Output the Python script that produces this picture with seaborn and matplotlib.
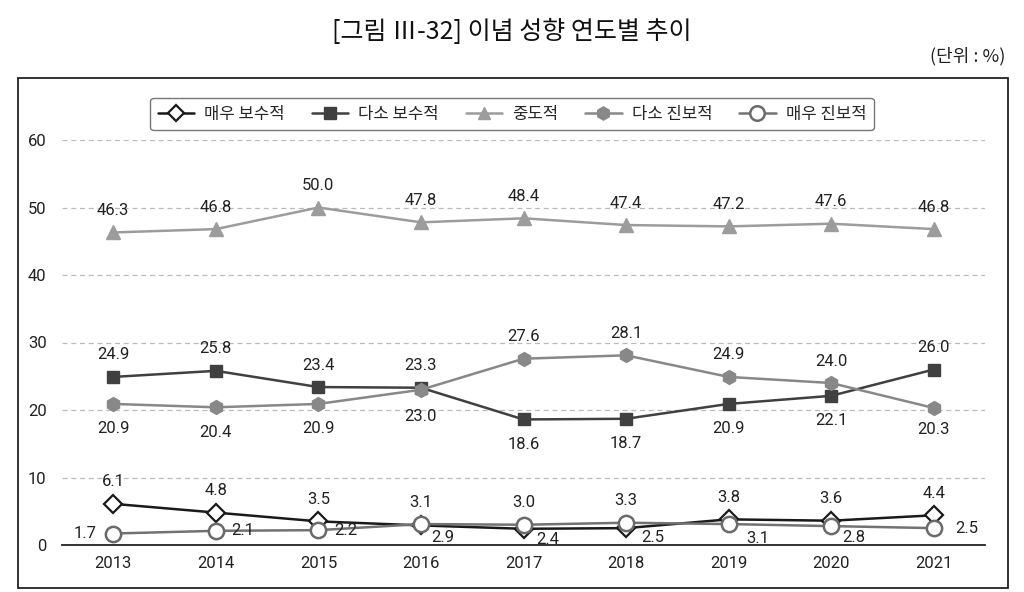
import matplotlib
matplotlib.use("Agg")
import matplotlib.pyplot as plt
import matplotlib.patches as mpatches
import seaborn as sns
import pandas as pd
import numpy as np

years = ["2013", "2014", "2015", "2016", "2017", "2018", "2019", "2020", "2021"]
series_names = ["매우 보수적", "다소 보수적", "중도적", "다소 진보적", "매우 진보적"]
very_conservative = [6.1, 4.8, 3.5, 2.9, 2.4, 2.5, 3.8, 3.6, 4.4]
somewhat_conservative = [24.9, 25.8, 23.4, 23.3, 18.6, 18.7, 20.9, 22.1, 26.0]
moderate = [46.3, 46.8, 50.0, 47.8, 48.4, 47.4, 47.2, 47.6, 46.8]
somewhat_progressive = [20.9, 20.4, 20.9, 23.0, 27.6, 28.1, 24.9, 24.0, 20.3]
very_progressive = [1.7, 2.1, 2.2, 3.1, 3.0, 3.3, 3.1, 2.8, 2.5]
y_ticks = [0, 10, 20, 30, 40, 50, 60]

values = [very_conservative, somewhat_conservative, moderate, somewhat_progressive, very_progressive]

sns.set_theme(style="white")
plt.rcParams["font.family"] = ["Noto Sans CJK KR", "DejaVu Sans"]

# styles
styles = {
    "매우 보수적": dict(color="#1a1a1a", marker="D", ms=9, mfc="white", mec="#1a1a1a", mew=1.6),
    "다소 보수적": dict(color="#404040", marker="s", ms=8.5, mfc="#404040", mec="#404040", mew=1),
    "중도적": dict(color="#9c9c9c", marker="^", ms=9.5, mfc="#9c9c9c", mec="#9c9c9c", mew=1),
    "다소 진보적": dict(color="#888888", marker="h", ms=10, mfc="#888888", mec="#888888", mew=1),
    "매우 진보적": dict(color="#727272", marker="o", ms=11, mfc="white", mec="#6a6a6a", mew=1.8),
}

# label offsets in pixels (dx, dy up)
U = (0, 22)
D = (0, -25)
label_offsets = {
    "매우 보수적": [U, U, U, (22, -12), (24, -11), (27, -9), U, U, U],
    "다소 보수적": [U, U, U, U, D, D, D, D, U],
    "중도적": [U] * 9,
    "다소 진보적": [D, D, D, (0, -27), U, U, U, U, (0, -22)],
    "매우 진보적": [(-28, 0), (27, 0), (27, 0), U, U, U, (29, -14), (23, -11), (33, 0)],
}

fig = plt.figure(figsize=(10.24, 5.92), dpi=100)
ax = fig.add_axes([62 / 1024, 1 - 545 / 592, (985 - 62) / 1024, (545 - 140) / 592])

xpos = np.arange(len(years))
rows = []
for name, vals in zip(series_names, values):
    for i, v in enumerate(vals):
        rows.append({"pos": i, "series": name, "value": v})
df = pd.DataFrame(rows)

handles = []
for name in series_names:
    st = styles[name]
    sub = df[df["series"] == name]
    sns.lineplot(data=sub, x="pos", y="value", ax=ax, color=st["color"], lw=1.8,
                 marker=st["marker"], markersize=st["ms"], markerfacecolor=st["mfc"],
                 markeredgecolor=st["mec"], markeredgewidth=st["mew"], clip_on=False,
                 legend=False, zorder=3)
    h, = ax.plot([], [], color=st["color"], lw=1.8, marker=st["marker"], markersize=st["ms"] * 0.95,
                 markerfacecolor=st["mfc"], markeredgecolor=st["mec"], markeredgewidth=st["mew"])
    handles.append(h)

# data labels
for name, vals in zip(series_names, values):
    for i, v in enumerate(vals):
        dx, dy = label_offsets[name][i]
        ax.annotate(f"{v:.1f}", (i, v), xytext=(dx * 0.72, dy * 0.72), textcoords="offset points",
                    ha="center", va="center", fontsize=12, color="#222222",
                    family=["Roboto", "DejaVu Sans"], zorder=5)

ax.set_xlim(-0.5, len(years) - 0.5)
ax.set_ylim(0, 60)
ax.set_xticks(xpos)
ax.set_xticklabels(years, family=["Roboto", "DejaVu Sans"], fontsize=12, color="#222222")
ax.set_yticks(y_ticks)
ax.set_yticklabels([str(t) for t in y_ticks], family=["Roboto", "DejaVu Sans"], fontsize=12, color="#222222")
ax.tick_params(axis="x", length=0, pad=8)
ax.tick_params(axis="y", length=0, pad=11)
for t in y_ticks[1:]:
    ax.axhline(t, color="#bbbbbb", lw=0.9, ls=(0, (4, 3)), zorder=1)
for s in ["left", "right", "top"]:
    ax.spines[s].set_visible(False)
ax.spines["bottom"].set_color("#222222")
ax.spines["bottom"].set_linewidth(1.3)
ax.set_xlabel("")
ax.set_ylabel("")
ax.set_facecolor("none")

leg = fig.legend(handles, series_names, loc="center", bbox_to_anchor=(512 / 1024, 1 - 114 / 592),
                 ncol=5, frameon=True, fontsize=12, handlelength=2.2, columnspacing=1.6,
                 handletextpad=0.6, borderpad=0.45, fancybox=True)
leg.get_frame().set_edgecolor("#555555")
leg.get_frame().set_linewidth(1.0)

# outer frame
frame = mpatches.Rectangle((18 / 1024, 1 - 588 / 592), (1008 - 18) / 1024, (588 - 78) / 592,
                           transform=fig.transFigure, fill=False, edgecolor="#222222", lw=1.3)
fig.patches.append(frame)

fig.text(512 / 1024, 1 - 32 / 592, "[그림 Ⅲ-32] 이념 성향 연도별 추이", ha="center", va="center",
         fontsize=18, color="#111111")
fig.text(1005 / 1024, 1 - 56 / 592, "(단위 : %)", ha="right", va="center", fontsize=13, color="#222222")

fig.savefig("out.png", dpi=100)
